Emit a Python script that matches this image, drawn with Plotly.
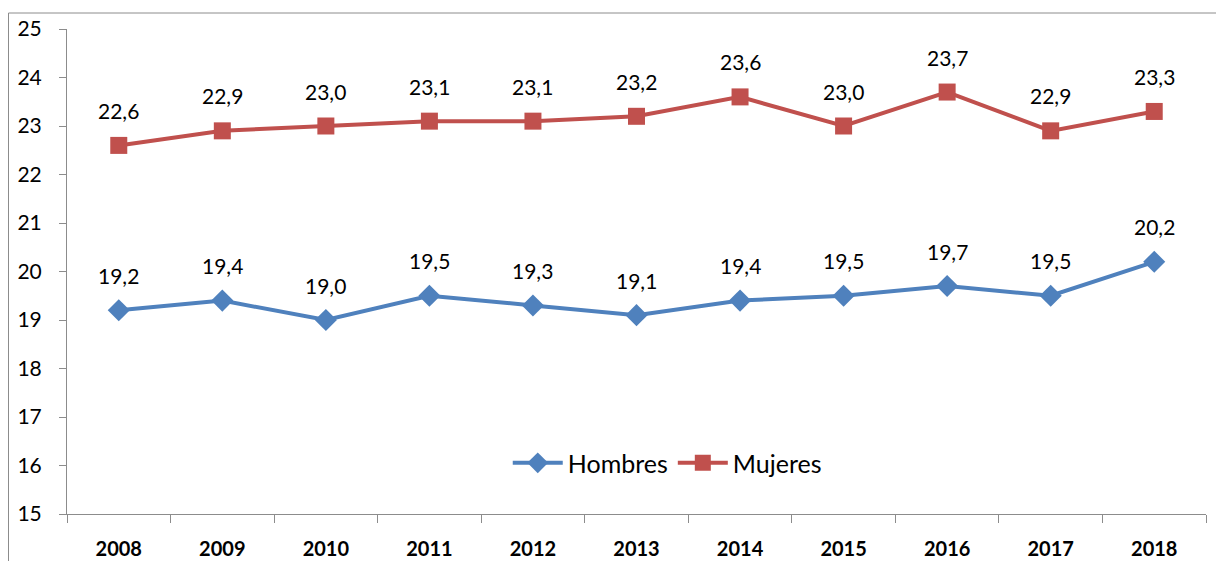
import plotly.graph_objects as go

years = ["2008", "2009", "2010", "2011", "2012", "2013", "2014", "2015", "2016", "2017", "2018"]
hombres = [19.2, 19.4, 19.0, 19.5, 19.3, 19.1, 19.4, 19.5, 19.7, 19.5, 20.2]
mujeres = [22.6, 22.9, 23.0, 23.1, 23.1, 23.2, 23.6, 23.0, 23.7, 22.9, 23.3]
y_ticks = [15, 16, 17, 18, 19, 20, 21, 22, 23, 24, 25]

BLUE = "#4F81BD"
RED = "#C0504D"
FONT = "Lato"

def fmt(v):
    return f"{v:.1f}".replace(".", ",")

fig = go.Figure()
fig.add_trace(go.Scatter(x=years, y=hombres, name="Hombres", mode="lines+markers",
                         line=dict(color=BLUE, width=4),
                         marker=dict(symbol="diamond", size=17, color=BLUE)))
fig.add_trace(go.Scatter(x=years, y=mujeres, name="Mujeres", mode="lines+markers",
                         line=dict(color=RED, width=4),
                         marker=dict(symbol="square", size=17, color=RED)))

annotations = []
for series in (hombres, mujeres):
    for i, v in enumerate(series):
        annotations.append(dict(x=i, y=v, xref="x", yref="y", text=fmt(v), showarrow=False,
                                yshift=35, font=dict(family=FONT, size=21, color="black")))

fig.update_layout(
    width=1216, height=553,
    margin=dict(l=59, r=18, t=21, b=47, autoexpand=False),
    paper_bgcolor="white", plot_bgcolor="white",
    showlegend=True,
    legend=dict(orientation="h", x=0.527, y=0.105, xanchor="center", yanchor="middle",
                font=dict(family=FONT, size=25, color="black"), bgcolor="rgba(0,0,0,0)",
                itemwidth=50),
    annotations=annotations,
    shapes=[dict(type="rect", xref="paper", yref="paper",
                 x0=(0.5 - 59) / 1139, x1=(1240 - 59) / 1139,
                 y0=-0.3, y1=(506 - 5) / 485,
                 line=dict(color="#8c8c8c", width=1), layer="below")],
)
fig.update_xaxes(type="category", categoryorder="array", categoryarray=years,
                 range=[-0.5, len(years) - 0.5], automargin=False,
                 tickson="boundaries", ticks="outside", ticklen=8, tickangle=0,
                 tickcolor="#8c8c8c", showline=True, linecolor="#8c8c8c", linewidth=1,
                 showgrid=False, ticklabelstandoff=17,
                 tickfont=dict(family=FONT, size=20, color="black", weight="bold"))
fig.update_yaxes(range=[15, 25], tickvals=y_ticks, ticks="outside", ticklen=7,
                 automargin=False,
                 tickcolor="#8c8c8c", showline=True, linecolor="#8c8c8c", linewidth=1,
                 showgrid=False, zeroline=False, ticklabelstandoff=13,
                 tickfont=dict(family=FONT, size=21, color="black"))

fig.write_html("out.html")
